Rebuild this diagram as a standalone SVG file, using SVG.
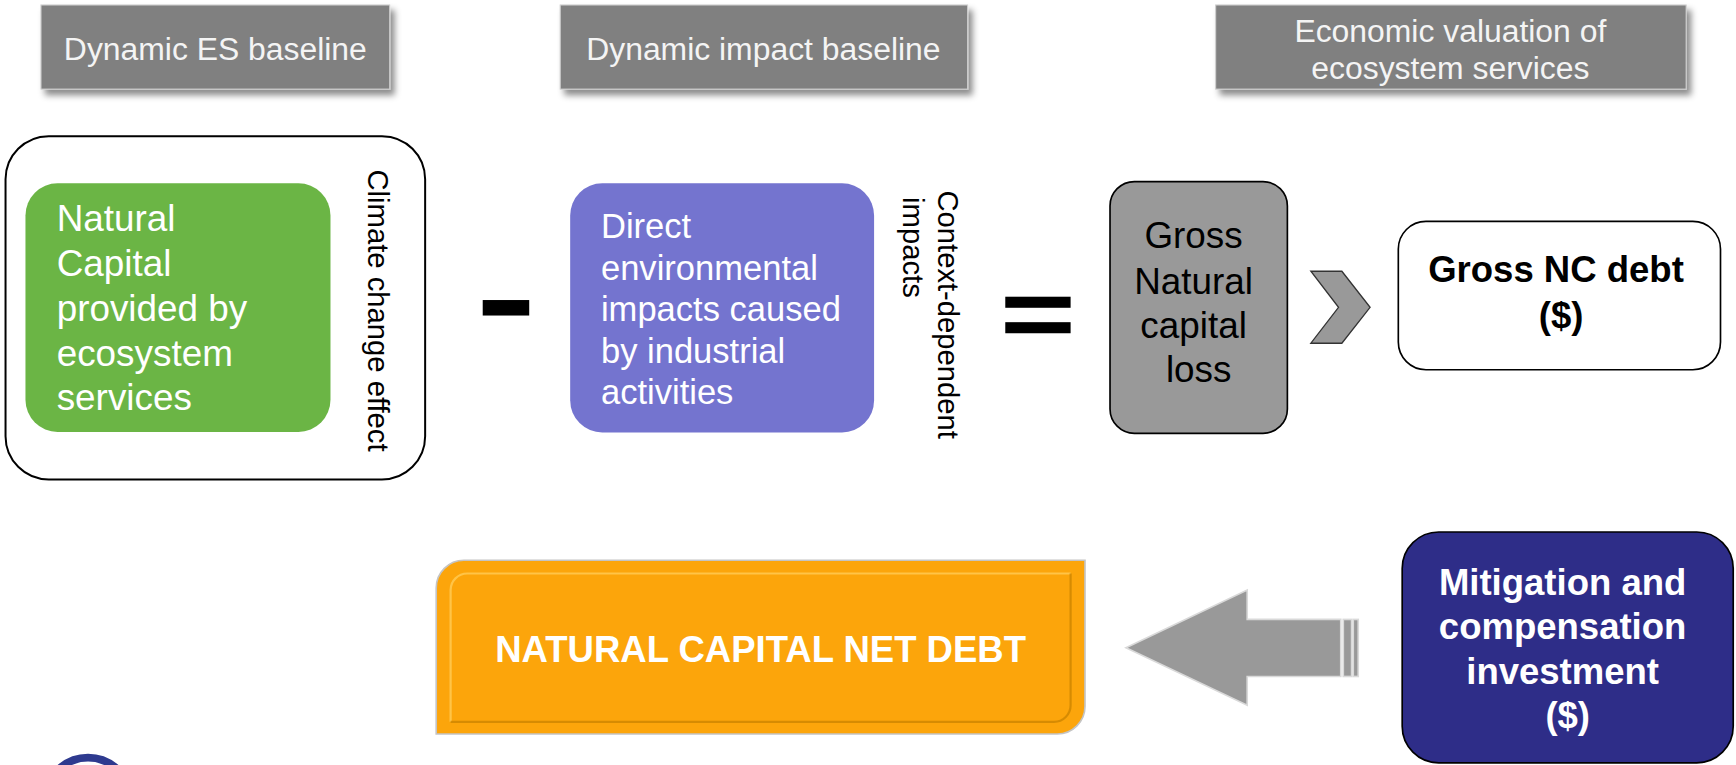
<svg xmlns="http://www.w3.org/2000/svg" width="1736" height="765" viewBox="0 0 1736 765">
<defs>
<filter id="sh" x="-10%" y="-20%" width="130%" height="170%">
<feDropShadow dx="4" dy="5" stdDeviation="3" flood-color="#000" flood-opacity="0.45"/>
</filter>
</defs>
<style>
text{font-family:"Liberation Sans",Arial,Helvetica,sans-serif}
.hdr{fill:#808080;stroke:#cfcfcf;stroke-width:1}
.ht{fill:#f4f4f4;font-size:28.8px;text-anchor:middle}
.wl{fill:#ffffff}
.blk{fill:#000000}
.bold{font-weight:bold}
.mid{text-anchor:middle}
.arrowfill{fill:#999999;stroke:#d9d9d9;stroke-width:1.5}
</style>
<rect width="1736" height="765" fill="#ffffff"/>
<g transform="scale(1.10714)">
  <g id="header-es">
    <rect class="hdr" x="37" y="4.5" width="315" height="76" filter="url(#sh)"/>
    <text class="ht" x="194.5" y="54">Dynamic ES baseline</text>
  </g>
  <g id="header-impact">
    <rect class="hdr" x="506" y="4.5" width="368" height="76" filter="url(#sh)"/>
    <text class="ht" x="689.5" y="54">Dynamic impact baseline</text>
  </g>
  <g id="header-valuation">
    <rect class="hdr" x="1098" y="4.5" width="425" height="76" filter="url(#sh)"/>
    <text class="ht" x="1310" y="38">Economic valuation of</text>
    <text class="ht" x="1310" y="71">ecosystem services</text>
  </g>

  <g id="climate-frame">
    <rect x="5" y="123" width="379" height="310" rx="39" ry="39" fill="#ffffff" stroke="#000" stroke-width="1.8"/>
    <text class="blk" font-size="26.4" text-anchor="middle" transform="translate(332,280.5) rotate(90)">Climate change effect</text>
  </g>
  <g id="natural-capital">
    <rect x="23" y="165.6" width="275.5" height="224.5" rx="29" ry="29" fill="#6bb545"/>
    <text class="wl" font-size="33.3">
      <tspan x="51.2" y="209">Natural</tspan>
      <tspan x="51.2" y="249.5">Capital</tspan>
      <tspan x="51.2" y="290">provided by</tspan>
      <tspan x="51.2" y="330.5">ecosystem</tspan>
      <tspan x="51.2" y="370.5">services</tspan>
    </text>
  </g>

  <g id="minus-sign">
    <rect x="436" y="271" width="42" height="14" fill="#000"/>
  </g>

  <g id="direct-impacts">
    <rect x="515" y="165.6" width="274.5" height="225" rx="29" ry="29" fill="#7474cf"/>
    <text class="wl" font-size="31.2">
      <tspan x="542.8" y="215.3">Direct</tspan>
      <tspan x="542.8" y="252.5">environmental</tspan>
      <tspan x="542.8" y="290">impacts caused</tspan>
      <tspan x="542.8" y="327.6">by industrial</tspan>
      <tspan x="542.8" y="364.5">activities</tspan>
    </text>
  </g>
  <g id="context-label">
    <text class="blk" font-size="26.4" transform="translate(847,172) rotate(90)">Context-dependent</text>
    <text class="blk" font-size="26.4" transform="translate(816,178) rotate(90)">impacts</text>
  </g>

  <g id="equals-sign">
    <rect x="908" y="268" width="59" height="10" fill="#000"/>
    <rect x="908" y="291" width="59" height="10" fill="#000"/>
  </g>

  <g id="gross-loss">
    <rect x="1002.6" y="164" width="160.2" height="227.4" rx="22" ry="22" fill="#999999" stroke="#000" stroke-width="1.5"/>
    <text class="blk mid" font-size="33.3">
      <tspan x="1082.7" y="224.3">Gross</tspan>
      <tspan x="1082.7" y="265.5">Natural</tspan>
      <tspan x="1082.7" y="305.6">capital</tspan>
      <tspan x="1082.7" y="344.7">loss</tspan>
    </text>
  </g>

  <g id="gross-debt">
    <rect x="1263" y="200" width="291" height="134" rx="25" ry="25" fill="#ffffff" stroke="#000" stroke-width="1.5"/>
    <text class="blk mid bold" font-size="33">
      <tspan x="1410" y="255">Gross NC debt</tspan>
      <tspan x="1410" y="296">($)</tspan>
    </text>
  </g>

  <g id="net-debt">
    <path d="M394 663 L394 531 A25 25 0 0 1 419 506 L980 506 L980 638 A25 25 0 0 1 955 663 Z" fill="#fca50b" stroke="#c4c4c4" stroke-width="1.5"/>
    <path d="M407 652 L407 533 A15 15 0 0 1 422 518 L967 518" fill="none" stroke="#ffc447" stroke-width="2"/>
    <path d="M967 518 L967 637 A15 15 0 0 1 952 652 L407 652" fill="none" stroke="#c98300" stroke-width="2" opacity="0.75"/>
    <text class="wl mid bold" font-size="33" x="687" y="598">NATURAL CAPITAL NET DEBT</text>
  </g>

  <g id="mitigation">
    <rect x="1266.5" y="480.5" width="299" height="208.5" rx="33" ry="33" fill="#2e2d88" stroke="#000" stroke-width="1.5"/>
    <text class="wl mid bold" font-size="33">
      <tspan x="1416" y="537.5">Mitigation and</tspan>
      <tspan x="1416" y="577.5">compensation</tspan>
      <tspan x="1416" y="617.5">investment</tspan>
      <tspan x="1416" y="657.5">($)</tspan>
    </text>
  </g>

  <g id="connectors">
    <polygon points="1184,245 1212,245 1237.5,277.6 1212,310 1184,310 1209,277.6" fill="#999999" stroke="#333333" stroke-width="1.2"/>
    <polygon class="arrowfill" points="1017,585 1126.5,533 1126.5,559.5 1211,559.5 1211,611 1126.5,611 1126.5,637"/>
    <rect class="arrowfill" x="1213.3" y="559.5" width="7.5" height="51.5"/>
    <rect class="arrowfill" x="1222.3" y="559.5" width="4.5" height="51.5"/>
  </g>

  <g id="logo-fragment">
    <circle cx="79.5" cy="722.6" r="38.3" fill="none" stroke="#2e3a8f" stroke-width="7.2"/>
  </g>
</g>
</svg>
